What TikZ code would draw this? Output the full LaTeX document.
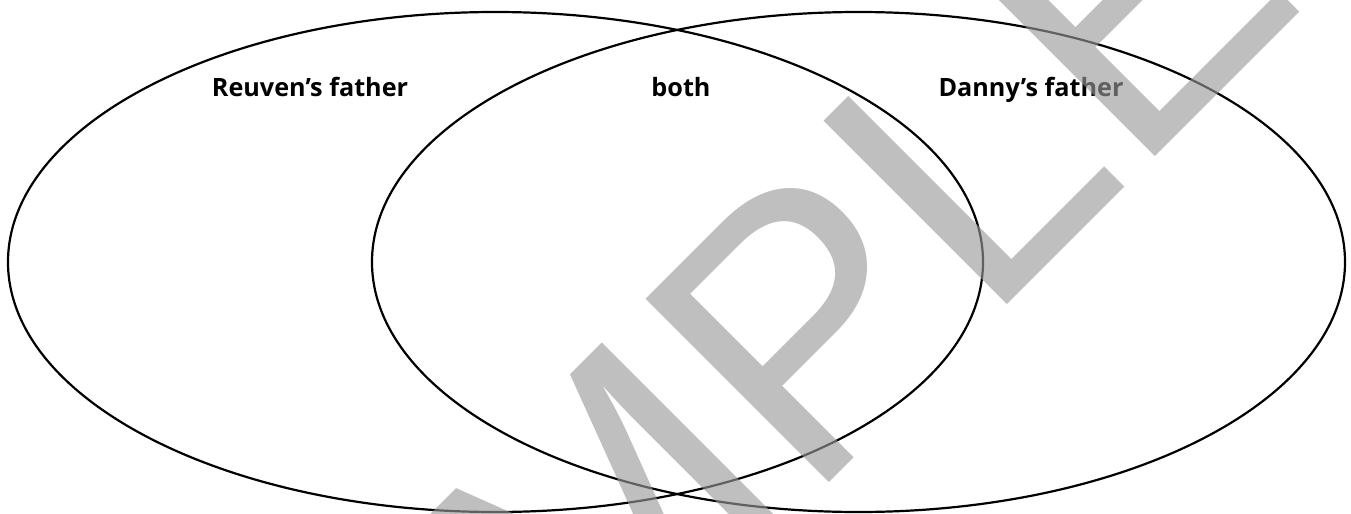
\documentclass[tikz,border=0pt]{standalone}
\usepackage{fontspec}
\usetikzlibrary{shapes.geometric}
\newfontfamily\labelfont{Open Sans}
\newfontfamily\wmfont{Liberation Sans}
\definecolor{wmgray}{RGB}{153,153,153}
\begin{document}
\begin{tikzpicture}[x=0.5pt,y=-0.5pt,
  setbox/.style={ellipse, draw=black, line width=1.1pt, inner sep=0pt},
  setlabel/.style={anchor=base, inner sep=0pt, font=\labelfont\bfseries\fontsize{12.6pt}{15pt}\selectfont},
  wmtext/.style={anchor=base west, inner sep=0pt, rotate=45, text=wmgray, text opacity=0.63,
    font=\wmfont\fontsize{188.5pt}{200pt}\selectfont}]
\useasboundingbox (0,0) rectangle (1351,514);
\clip (0,0) rectangle (1351,514);
\node[setbox, minimum width=487.5pt, minimum height=250pt] (left) at (495.5,262) {};
\node[setbox, minimum width=486.5pt, minimum height=250pt] (right) at (858.5,262) {};
\node[setlabel] (lab1) at (310,97) {Reuven’s father};
\node[setlabel] (lab2) at (681,97) {both};
\node[setlabel] (lab3) at (1031,97) {Danny’s father};
\node[wmtext] (wm) at (230,1082) {SAMPLE};
\end{tikzpicture}
\end{document}
